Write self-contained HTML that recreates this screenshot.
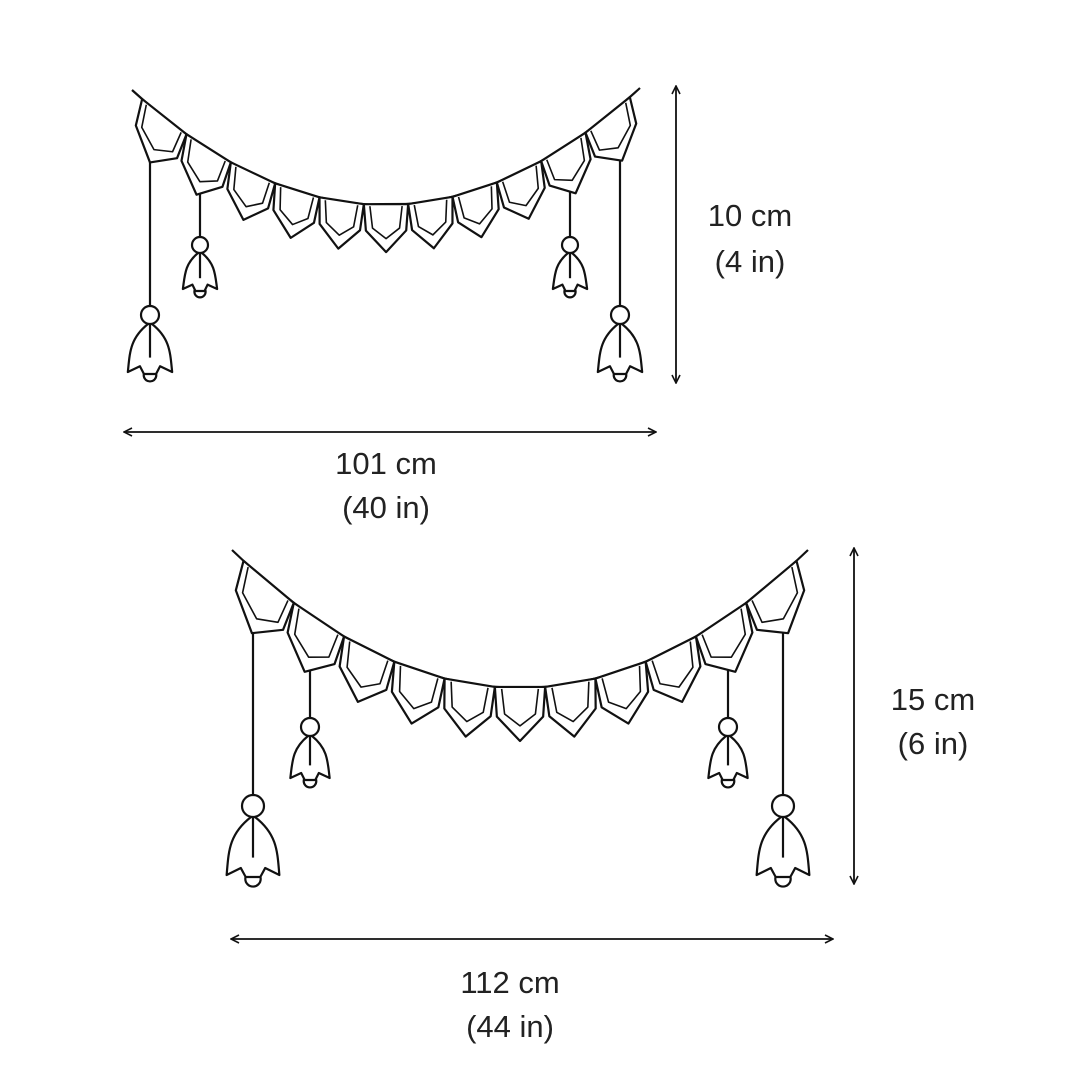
<!DOCTYPE html>
<html><head><meta charset="utf-8"><style>
html,body{margin:0;padding:0;background:#fff}
svg{display:block}
text{font-family:"Liberation Sans",sans-serif;font-size:31px;fill:#222}
</style></head><body>
<svg id="s" width="1080" height="1081" viewBox="0 0 1080 1081" xmlns="http://www.w3.org/2000/svg">
<defs><marker id="ar" viewBox="0 0 10 10" refX="9" refY="5" markerWidth="10" markerHeight="10" markerUnits="userSpaceOnUse" orient="auto-start-reverse"><path d="M1,1 L9,5 L1,9" fill="none" stroke="#111" stroke-width="1.6"/></marker></defs>
<g id="g" fill="#fff" stroke="#111" stroke-width="2.2" stroke-linejoin="round"></g>
<g stroke="#111" stroke-width="1.8" fill="none">
<line x1="124" y1="432" x2="656" y2="432" marker-start="url(#ar)" marker-end="url(#ar)"/>
<line x1="676" y1="86" x2="676" y2="383" marker-start="url(#ar)" marker-end="url(#ar)"/>
<line x1="231" y1="939" x2="833" y2="939" marker-start="url(#ar)" marker-end="url(#ar)"/>
<line x1="854" y1="548" x2="854" y2="884" marker-start="url(#ar)" marker-end="url(#ar)"/>
</g>
<g text-anchor="middle">
<text x="750" y="226">10 cm</text><text x="750" y="272">(4 in)</text>
<text x="386" y="474">101 cm</text><text x="386" y="518">(40 in)</text>
<text x="933" y="710">15 cm</text><text x="933" y="754">(6 in)</text>
<text x="510" y="993">112 cm</text><text x="510" y="1037">(44 in)</text>
</g>
</svg>
<script>
const g=document.getElementById('g');let h='';
function q(p0,c,p1,t){const u=1-t;return[u*u*p0[0]+2*u*t*c[0]+t*t*p1[0],u*u*p0[1]+2*u*t*c[1]+t*t*p1[1]];}
function garland(p0,p1,low,n,hh,tas){
 const c=[(p0[0]+p1[0])/2,2*low-(p0[1]+p1[1])/2];
 let d='M'+p0[0]+','+p0[1]+' Q'+c[0]+','+c[1]+' '+p1[0]+','+p1[1];
 h+='<path d="'+d+'" fill="none"/>';
 tas.forEach(t=>{const [x,y0,by,r,bl]=t;
  h+='<line x1="'+x+'" y1="'+y0+'" x2="'+x+'" y2="'+(by-r)+'"/>';
  const top=by+r, w=bl*0.42;
  h+='<circle cx="'+x+'" cy="'+(by+r+bl+r*0.35)+'" r="'+(r*0.7)+'"/>';
  h+='<path d="M'+(x-2)+','+top+' C'+(x-w)+','+(top+bl*0.3)+' '+(x-w)+','+(top+bl*0.6)+' '+(x-w-2)+','+(top+bl)+' L'+(x-w*0.5)+','+(top+bl*0.88)+' L'+(x-w*0.3)+','+(top+bl+2)+' L'+(x+w*0.3)+','+(top+bl+2)+' L'+(x+w*0.5)+','+(top+bl*0.88)+' L'+(x+w+2)+','+(top+bl)+' C'+(x+w)+','+(top+bl*0.6)+' '+(x+w)+','+(top+bl*0.3)+' '+(x+2)+','+top+' Z"/>';
  h+='<line x1="'+x+'" y1="'+top+'" x2="'+x+'" y2="'+(top+bl*0.7)+'"/>';
  h+='<circle cx="'+x+'" cy="'+by+'" r="'+r+'"/>';
 });
 const t0=0.02,t1=0.98;
 for(let i=0;i<n;i++){
  const a=q(p0,c,p1,t0+(t1-t0)*i/n),b=q(p0,c,p1,t0+(t1-t0)*(i+1)/n);
  const m=[(a[0]+b[0])/2,(a[1]+b[1])/2];
  let tx=b[0]-a[0],ty=b[1]-a[1];const L=Math.hypot(tx,ty);tx/=L;ty/=L;
  let nx=-ty,ny=tx+1.2;const NL=Math.hypot(nx,ny);nx/=NL;ny/=NL;
  const tip=[m[0]+nx*hh,m[1]+ny*hh];
  const A2=[a[0]+nx*hh*0.55+tx*2,a[1]+ny*hh*0.55+ty*2],B2=[b[0]+nx*hh*0.55-tx*2,b[1]+ny*hh*0.55-ty*2];
  h+='<path d="M'+a+' L'+A2+' L'+tip+' L'+B2+' L'+b+' Z"/>';
  const k=hh*0.18;
  const ia=[a[0]+tx*k*0.7+nx*2,a[1]+ty*k*0.7+ny*2],ib=[b[0]-tx*k*0.7+nx*2,b[1]-ty*k*0.7+ny*2];
  const iA=[a[0]+nx*hh*0.5+tx*k,a[1]+ny*hh*0.5+ty*k],iB=[b[0]+nx*hh*0.5-tx*k,b[1]+ny*hh*0.5-ty*k];
  const it=[m[0]+nx*hh*0.72,m[1]+ny*hh*0.72];
  h+='<path fill="none" stroke-width="1.6" d="M'+ia+' L'+iA+' L'+it+' L'+iB+' L'+ib+'"/>';
 }
}
garland([132,90],[640,88],205,11,48,[[150,150,315,9,48],[200,186,245,8,36],[620,150,315,9,48],[570,186,245,8,36]]);
garland([232,550],[808,550],688,11,54,[[253,620,806,11,58],[310,655,727,9,42],[783,620,806,11,58],[728,655,727,9,42]]);
g.innerHTML=h;
</script>
</body></html>
